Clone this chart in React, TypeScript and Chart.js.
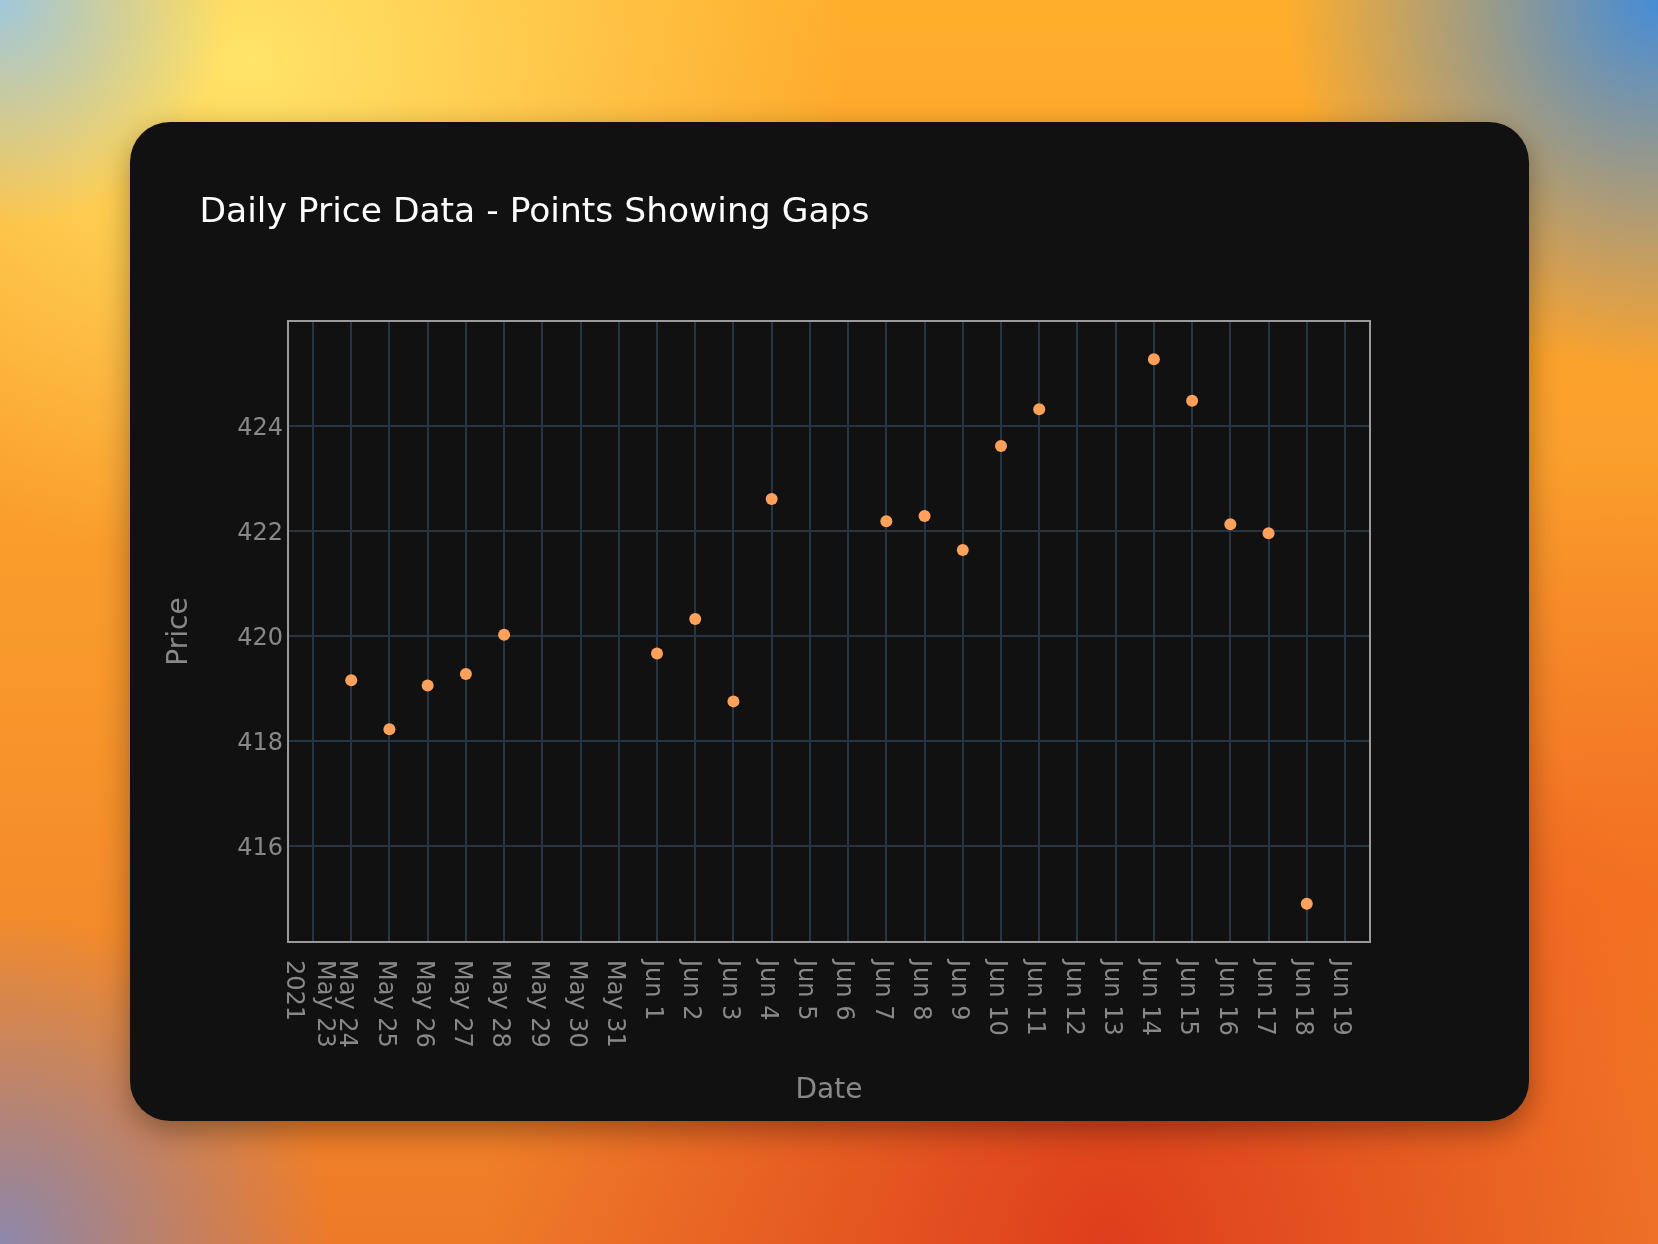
import React, { useEffect, useRef } from 'react';
import { Chart, registerables } from 'chart.js';

Chart.register(...registerables);

const TITLE = 'Daily Price Data - Points Showing Gaps';
const X_TITLE = 'Date';
const Y_TITLE = 'Price';

const ORIGIN_DATE = '2021-05-23';

const DATES = [
  '2021-05-24', '2021-05-25', '2021-05-26', '2021-05-27', '2021-05-28',
  '2021-06-01', '2021-06-02', '2021-06-03', '2021-06-04',
  '2021-06-07', '2021-06-08', '2021-06-09', '2021-06-10', '2021-06-11',
  '2021-06-14', '2021-06-15', '2021-06-16', '2021-06-17', '2021-06-18',
];

const PRICES = [
  419.16, 418.23, 419.06, 419.28, 420.03,
  419.67, 420.33, 418.76, 422.61,
  422.19, 422.29, 421.64, 423.62, 424.32,
  425.27, 424.48, 422.13, 421.96, 414.91,
];

const X_TICK_LABELS = [
  'May 23\n2021', 'May 24', 'May 25', 'May 26', 'May 27', 'May 28', 'May 29', 'May 30', 'May 31',
  'Jun 1', 'Jun 2', 'Jun 3', 'Jun 4', 'Jun 5', 'Jun 6', 'Jun 7', 'Jun 8', 'Jun 9', 'Jun 10',
  'Jun 11', 'Jun 12', 'Jun 13', 'Jun 14', 'Jun 15', 'Jun 16', 'Jun 17', 'Jun 18', 'Jun 19',
];

const Y_TICKS = [416, 418, 420, 422, 424];

const X_RANGE = [-0.654, 27.654];
const Y_RANGE = [414.18, 426.0];

const FONT = '"DejaVu Sans", Verdana, sans-serif';
const GRAY = '#888888';
const MARKER = '#FFA15A';
const GRID = '#283442';

function dayOffset(s: string): number {
  const [y, m, d] = s.split('-').map(Number);
  const [oy, om, od] = ORIGIN_DATE.split('-').map(Number);
  return Math.round((Date.UTC(y, m - 1, d) - Date.UTC(oy, om - 1, od)) / 86400000);
}

const framePlugin = {
  id: 'plotFrame',
  beforeDatasetsDraw(chart: any) {
    const { ctx, chartArea: a } = chart;
    ctx.save();
    ctx.strokeStyle = '#9a9a9a';
    ctx.lineWidth = 2;
    ctx.strokeRect(a.left, a.top, a.right - a.left, a.bottom - a.top);
    ctx.restore();
  },
};

const textPlugin = {
  id: 'plotText',
  afterDraw(chart: any) {
    const { ctx, chartArea: a, scales } = chart;
    ctx.save();
    ctx.fillStyle = GRAY;
    ctx.font = `24px ${FONT}`;
    ctx.textBaseline = 'alphabetic';

    // y tick labels
    ctx.textAlign = 'right';
    for (const t of scales.y.ticks) {
      const y = scales.y.getPixelForValue(t.value);
      ctx.fillText(String(t.value), a.left - 5, y + 8.75);
    }

    // x tick labels, rotated 90deg clockwise
    ctx.textAlign = 'left';
    const lh = 31.2;
    for (const t of scales.x.ticks) {
      const label = X_TICK_LABELS[t.value];
      if (label === undefined) continue;
      const lines = label.split('\n');
      const x = scales.x.getPixelForValue(t.value);
      const n = lines.length;
      lines.forEach((line, k) => {
        const cx = x - 2 + ((n - 1) / 2) * lh - k * lh;
        ctx.save();
        ctx.translate(cx, a.bottom + 18);
        ctx.rotate(Math.PI / 2);
        ctx.fillText(line, 0, 8.75);
        ctx.restore();
      });
    }

    // axis titles
    ctx.font = `28px ${FONT}`;
    ctx.textAlign = 'center';
    ctx.fillText(X_TITLE, (a.left + a.right) / 2, 975.5);
    ctx.save();
    ctx.translate(57.4, (a.top + a.bottom) / 2);
    ctx.rotate(-Math.PI / 2);
    ctx.fillText(Y_TITLE, 0, 0);
    ctx.restore();

    // chart title
    ctx.font = `34.5px ${FONT}`;
    ctx.fillStyle = '#ffffff';
    ctx.textAlign = 'left';
    ctx.fillText(TITLE, 69.5, 99.7);
    ctx.restore();
  },
};

export default function App() {
  const canvasRef = useRef<HTMLCanvasElement | null>(null);

  useEffect(() => {
    const canvas = canvasRef.current;
    if (!canvas) return;
    const points = DATES.map((d, i) => ({ x: dayOffset(d), y: PRICES[i] }));
    const chart = new Chart(canvas, {
      type: 'scatter',
      data: {
        datasets: [
          {
            label: 'Price',
            data: points,
            backgroundColor: MARKER,
            borderColor: MARKER,
            borderWidth: 0,
            pointRadius: 6,
            pointHoverRadius: 6,
          },
        ],
      },
      options: {
        responsive: false,
        animation: false,
        devicePixelRatio: 1,
        layout: { padding: { left: 158, top: 199, right: 159, bottom: 179 } },
        plugins: {
          legend: { display: false },
          title: { display: false },
          tooltip: { enabled: false },
        },
        scales: {
          x: {
            type: 'linear',
            min: X_RANGE[0],
            max: X_RANGE[1],
            afterBuildTicks: (scale: any) => {
              scale.ticks = X_TICK_LABELS.map((_, i) => ({ value: i }));
            },
            ticks: { display: false },
            grid: { color: GRID, lineWidth: 2, drawTicks: false },
            border: { display: false },
          },
          y: {
            type: 'linear',
            min: Y_RANGE[0],
            max: Y_RANGE[1],
            afterBuildTicks: (scale: any) => {
              scale.ticks = Y_TICKS.map((v) => ({ value: v }));
            },
            ticks: { display: false },
            grid: { color: GRID, lineWidth: 2, drawTicks: false },
            border: { display: false },
          },
        },
      },
      plugins: [framePlugin, textPlugin],
    });
    return () => chart.destroy();
  }, []);

  const bg = [
    'radial-gradient(circle at 0% 0%, rgba(160,200,220,1) 0%, rgba(160,200,220,0) 11%)',
    'radial-gradient(circle at 100% 0%, rgba(70,140,215,1) 0%, rgba(70,140,215,0) 18%)',
    'radial-gradient(ellipse at 15% 5%, rgba(255,228,105,1) 0%, rgba(255,228,105,0) 30%)',
    'radial-gradient(circle at 0% 100%, rgba(140,135,170,1) 0%, rgba(140,135,170,0) 16%)',
    'radial-gradient(ellipse at 67% 100%, rgba(222,62,28,1) 0%, rgba(222,62,28,0) 40%)',
    'radial-gradient(ellipse at 100% 72%, rgba(243,112,34,1) 0%, rgba(243,112,34,0) 35%)',
    'linear-gradient(180deg, #ffae2c 0%, #f99a2c 50%, #ee7a28 100%)',
  ].join(', ');

  return (
    <div
      style={{
        position: 'fixed',
        left: 0,
        top: 0,
        width: 1658,
        height: 1244,
        background: bg,
        overflow: 'hidden',
      }}
    >
      <div
        style={{
          position: 'absolute',
          left: 130,
          top: 122,
          width: 1399,
          height: 999,
          borderRadius: 40,
          background: '#111111',
          overflow: 'hidden',
          boxShadow: '0 10px 30px rgba(0,0,0,0.35)',
        }}
      >
        <canvas
          ref={canvasRef}
          width={1399}
          height={999}
          style={{ display: 'block', width: 1399, height: 999 }}
        />
      </div>
    </div>
  );
}
